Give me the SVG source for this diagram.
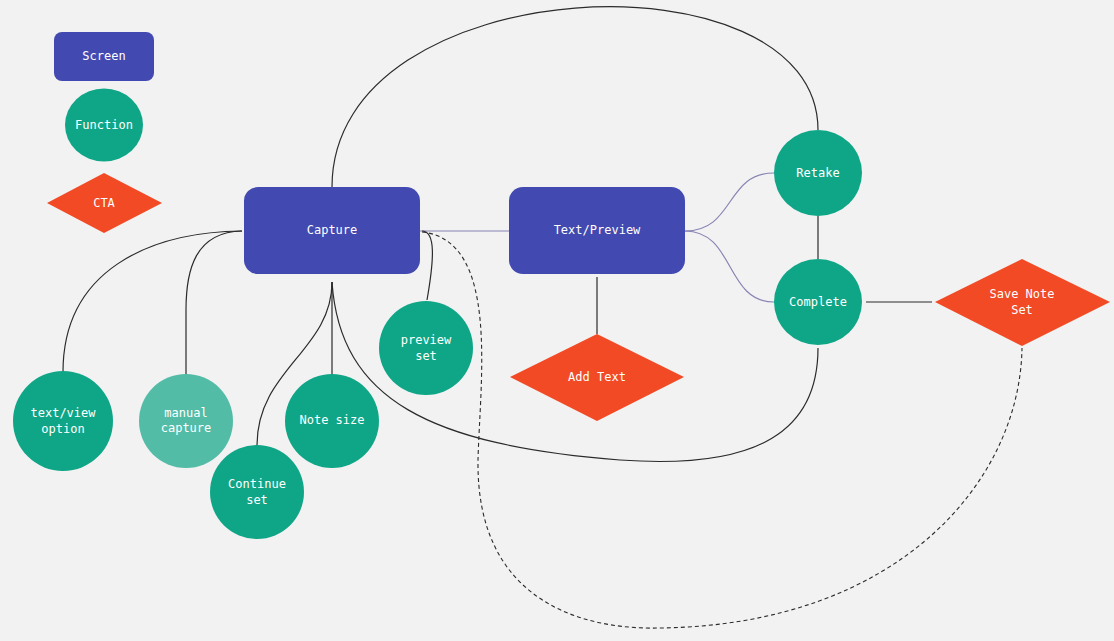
<svg xmlns="http://www.w3.org/2000/svg" width="1114" height="641" viewBox="0 0 1114 641">
<style>
.scr{fill:#4249b0}
.fn{fill:#0fa687}
.fnl{fill:#52bca7}
.cta{fill:#f24a25}
text{font-family:"DejaVu Sans Mono","Liberation Mono",monospace;font-size:12px;fill:#ffffff;text-anchor:middle;dominant-baseline:central}
.c{fill:none;stroke:#2b2b2b;stroke-width:1.2}
.p{fill:none;stroke:#8884b4;stroke-width:1.2}
.d{fill:none;stroke:#2b2b2b;stroke-width:1.1;stroke-dasharray:4 3}
</style>
<rect width="1114" height="641" fill="#f2f2f2"/>
<g id="connectors">
<path class="c" d="M332,187 C332,-32 818,-52 818,130"/>
<path class="p" d="M420,231 L509,231"/>
<path class="p" d="M685,231 C735,231 725,173 774,173"/>
<path class="p" d="M685,231 C735,231 725,302 774,302"/>
<path class="c" d="M818,216 L818,259"/>
<path class="c" d="M866,302 L932,302"/>
<path class="c" d="M597,277 L597,334"/>
<path class="c" d="M332,282 C340,400 430,445 620,460 C760,470 818,430 818,348"/>
<path class="c" d="M242,231 C150,232 63,270 63,372"/>
<path class="c" d="M242,231 C195,232 186,270 186,310 L186,374"/>
<path class="c" d="M332,282 L332,374"/>
<path class="c" d="M332,282 C332,350 257,370 257,445"/>
<path class="c" d="M422,231 C436,231 434,260 427,300"/>
<path class="d" d="M422,232 C500,240 480,380 478,460 C476,600 580,630 660,628 C900,625 1020,480 1022,348"/>
</g>
<g id="legend-screen"><rect class="scr" x="54" y="32" width="100" height="49" rx="8"/><text x="104" y="56">Screen</text></g>
<g id="legend-function"><ellipse class="fn" cx="104" cy="125" rx="39" ry="36.5"/><text x="104" y="125">Function</text></g>
<g id="legend-cta"><polygon class="cta" points="47,203 104,173 162,203 104,233"/><text x="104" y="203">CTA</text></g>
<g id="capture"><rect class="scr" x="244" y="187" width="176" height="87" rx="14"/><text x="332" y="230">Capture</text></g>
<g id="text-preview"><rect class="scr" x="509" y="187" width="176" height="87" rx="14"/><text x="597" y="230">Text/Preview</text></g>
<g id="retake"><ellipse class="fn" cx="818" cy="173" rx="44" ry="43"/><text x="818" y="173">Retake</text></g>
<g id="complete"><ellipse class="fn" cx="818" cy="302" rx="44" ry="43"/><text x="818" y="302">Complete</text></g>
<g id="save-note-set"><polygon class="cta" points="935,302 1022,259 1110,302 1022,346"/><text x="1022" y="294">Save Note</text><text x="1022" y="310">Set</text></g>
<g id="add-text"><polygon class="cta" points="510,377 597,334 684,377 597,421"/><text x="597" y="377">Add Text</text></g>
<g id="preview-set"><circle class="fn" cx="426" cy="348" r="47"/><text x="426" y="340">preview</text><text x="426" y="356">set</text></g>
<g id="text-view-option"><circle class="fn" cx="63" cy="421" r="50"/><text x="63" y="413">text/view</text><text x="63" y="429">option</text></g>
<g id="manual-capture"><circle class="fnl" cx="186" cy="421" r="47"/><text x="186" y="413">manual</text><text x="186" y="428">capture</text></g>
<g id="note-size"><circle class="fn" cx="332" cy="421" r="47"/><text x="332" y="420">Note size</text></g>
<g id="continue-set"><circle class="fn" cx="257" cy="492" r="47"/><text x="257" y="484">Continue</text><text x="257" y="500">set</text></g>
</svg>
